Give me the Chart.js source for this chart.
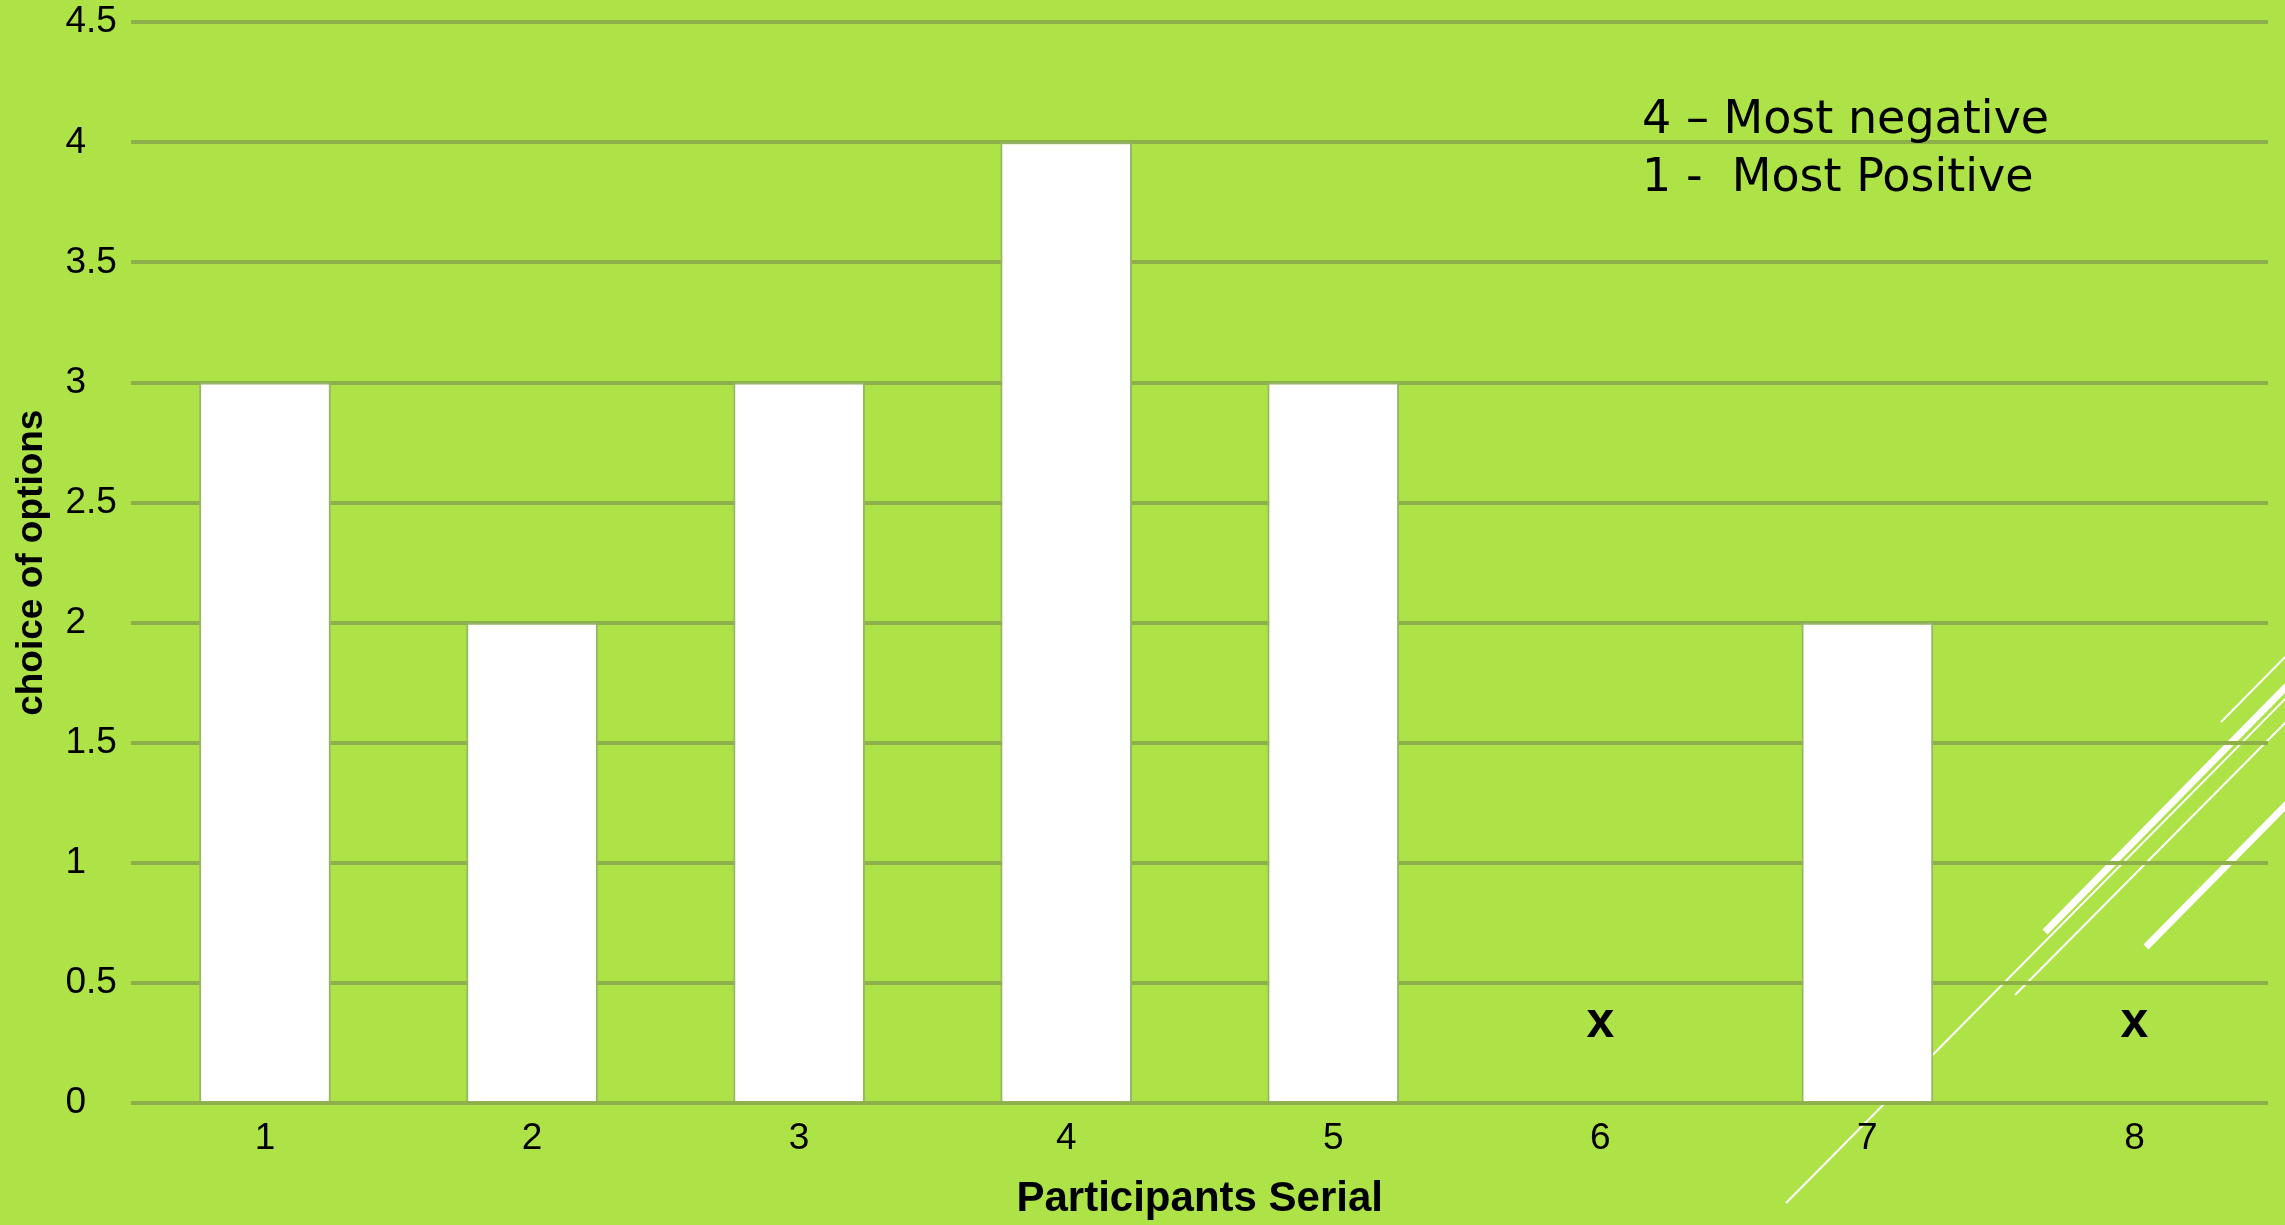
<!DOCTYPE html>
<html>
<head>
<meta charset="utf-8">
<script src="https://cdn.jsdelivr.net/npm/chart.js@4.4.0/dist/chart.umd.min.js"></script>
<style>
    html, body { margin: 0; padding: 0; background: #ade347; }
    #wrap { width: 2285px; height: 1225px; position: relative; }
</style>
</head>
<body>
<div id="wrap"><canvas id="choiceChart"></canvas></div>
<script>
const participants = ['1', '2', '3', '4', '5', '6', '7', '8'];
const choices = [3, 2, 3, 4, 3, null, 2, null];
// participants 6 and 8 gave no answer, marked with an "x"
const missingMarks = [null, null, null, null, null, 0.33, null, 0.33];
const yTicks = [0, 0.5, 1, 1.5, 2, 2.5, 3, 3.5, 4, 4.5];
const noteLines = ['4 \u2013 Most negative', '1 -  Most Positive'];

const GREEN = '#ade347';
const GRID = '#8db04a';
const AXIS_FONT = '"Liberation Sans", Arial, sans-serif';

(function () {
    const canvas = document.getElementById('choiceChart');
    if (!canvas || typeof Chart === 'undefined') return;

    // slide background + the white diagonal strokes in the bottom right corner
    const slideBackdrop = {
        id: 'slideBackdrop',
        beforeDraw(chart) {
            const c = chart.ctx;
            const sx = chart.width / 2285;
            const sy = chart.height / 1225;
            c.save();
            c.fillStyle = GREEN;
            c.fillRect(0, 0, chart.width, chart.height);
            c.strokeStyle = '#ffffff';
            c.lineCap = 'butt';
            const strokes = [
                [2221, 722, 2290, 652, 2],
                [2045, 932, 2290, 683, 7],
                [1786, 1203, 2290, 694, 2],
                [2015, 995, 2290, 718, 2],
                [2146, 947, 2290, 801, 7],
            ];
            strokes.forEach(([x1, y1, x2, y2, w]) => {
                c.lineWidth = w;
                c.beginPath();
                c.moveTo(x1 * sx, y1 * sy);
                c.lineTo(x2 * sx, y2 * sy);
                c.stroke();
            });
            c.restore();
        },
    };

    const marksAndNote = {
        id: 'marksAndNote',
        afterDatasetsDraw(chart) {
            const c = chart.ctx;
            c.save();
            c.fillStyle = '#000000';
            c.textAlign = 'center';
            c.textBaseline = 'alphabetic';
            c.font = 'bold 50px ' + AXIS_FONT;
            chart.getDatasetMeta(1).data.forEach((pt, i) => {
                if (missingMarks[i] == null) return;
                c.fillText('x', pt.x, pt.y + 13);
            });

            const sx = chart.width / 2285;
            c.textAlign = 'left';
            c.font = '46px "DejaVu Sans", sans-serif';
            c.fillText(noteLines[0], 1642 * sx, 133);
            c.fillText(noteLines[1], 1642 * sx, 191);
            c.restore();
        },
    };

    new Chart(canvas.getContext('2d'), {
        data: {
            labels: participants,
            datasets: [
                {
                    type: 'bar',
                    label: 'choice of options',
                    data: choices,
                    backgroundColor: '#ffffff',
                    borderColor: '#98b46a',
                    borderWidth: 2,
                    categoryPercentage: 1,
                    barPercentage: 0.493,
                },
                {
                    type: 'line',
                    label: 'no answer',
                    data: missingMarks,
                    yAxisID: 'y',
                    showLine: false,
                    pointRadius: 0,
                },
            ],
        },
        plugins: [slideBackdrop, marksAndNote],
        options: {
            responsive: true,
            maintainAspectRatio: false,
            animation: false,
            layout: { padding: { top: 22, right: 17, bottom: 0, left: 0 } },
            plugins: {
                legend: { display: false },
                tooltip: { enabled: false },
            },
            scales: {
                x: {
                    grid: { display: false, drawTicks: false },
                    border: { display: false },
                    ticks: {
                        color: '#000000',
                        padding: 13,
                        font: { family: AXIS_FONT, size: 37 },
                    },
                    title: {
                        display: true,
                        text: 'Participants Serial',
                        color: '#000000',
                        padding: { top: 1, bottom: 0 },
                        font: { family: AXIS_FONT, size: 42, weight: 'bold' },
                    },
                },
                y: {
                    min: yTicks[0],
                    max: yTicks[yTicks.length - 1],
                    weight: 0,
                    grid: { color: GRID, lineWidth: 4, drawTicks: false },
                    border: { display: false },
                    ticks: {
                        stepSize: yTicks[1] - yTicks[0],
                        crossAlign: 'far',
                        padding: 0,
                        color: '#000000',
                        font: { family: AXIS_FONT, size: 37 },
                        callback: (v) => String(Math.round(v * 10) / 10),
                    },
                    afterFit(scale) {
                        scale.width += 14.6;
                    },
                },
                // holds only the vertical title so the tick labels can sit left-aligned
                yTitle: {
                    type: 'linear',
                    axis: 'y',
                    position: 'left',
                    weight: 1,
                    grid: { display: false, drawTicks: false },
                    border: { display: false },
                    ticks: { display: false },
                    title: {
                        display: true,
                        text: 'choice of options',
                        color: '#000000',
                        padding: { top: 10, bottom: 11 },
                        font: { family: AXIS_FONT, size: 37, weight: 'bold' },
                    },
                },
            },
        },
    });
})();
</script>
</body>
</html>
